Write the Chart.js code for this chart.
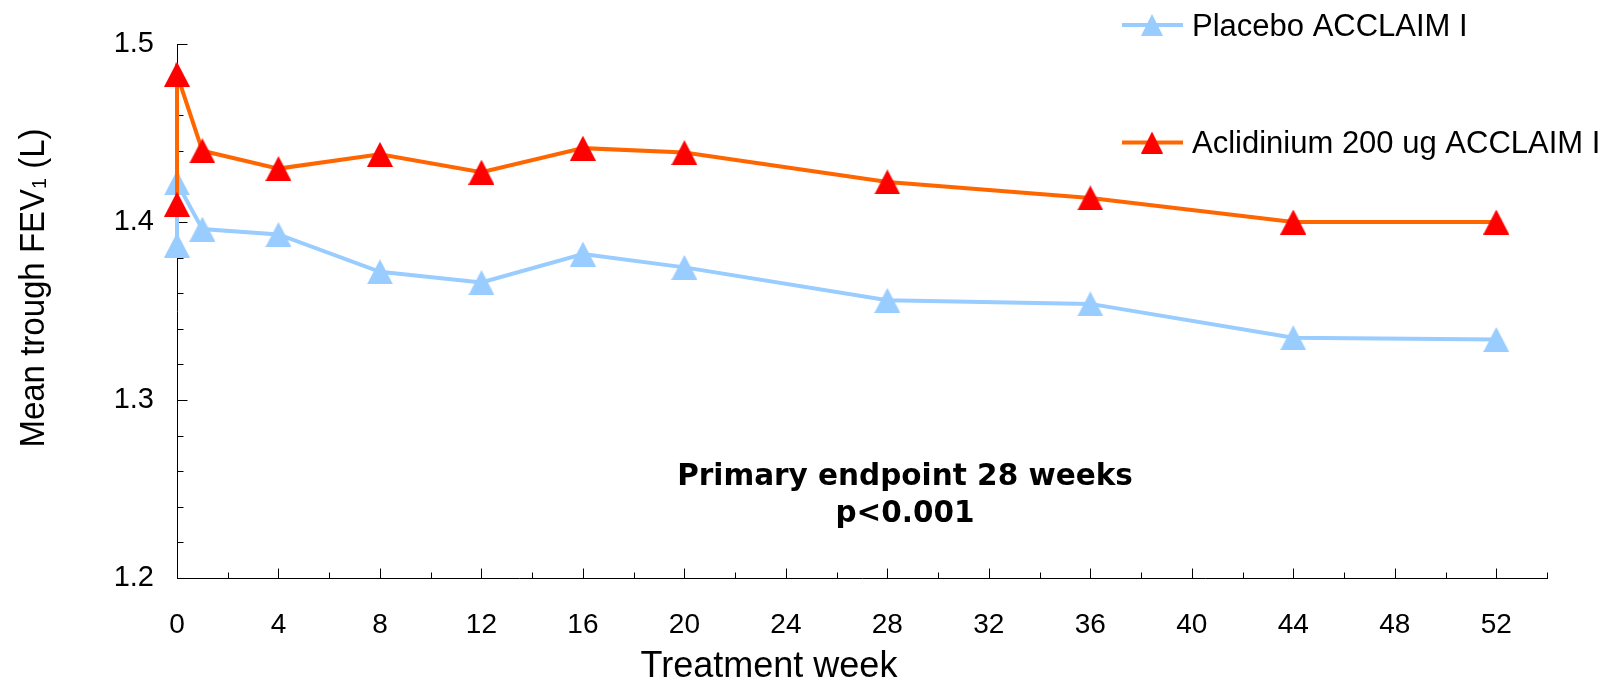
<!DOCTYPE html>
<html>
<head>
<meta charset="utf-8">
<script src="https://cdn.jsdelivr.net/npm/chart.js@4.4.1/dist/chart.umd.min.js"></script>
<style>
  html, body { margin: 0; padding: 0; background: #fff; }
  canvas { display: block; }
</style>
</head>
<body>
<canvas id="grafico" width="1614" height="683"></canvas>
<script>
// dados (semana 0 tem dois pontos: pré e pós-dose)
const semanas = [0, 0, 1, 4, 8, 12, 16, 20, 28, 36, 44, 52];
const placebo = [1.387, 1.422, 1.396, 1.393, 1.372, 1.366, 1.382, 1.3745, 1.356, 1.354, 1.335, 1.334];
const aclidinium = [1.410, 1.483, 1.440, 1.430, 1.438, 1.428, 1.4415, 1.439, 1.4225, 1.4135, 1.400, 1.400];
const nomes = ["Placebo ACCLAIM I", "Aclidinium 200 ug ACCLAIM I"];

const ticksX = [0, 4, 8, 12, 16, 20, 24, 28, 32, 36, 40, 44, 48, 52];
const menoresX = [2, 6, 10, 14, 18, 22, 26, 30, 34, 38, 42, 46, 50, 54];
const ticksY = [1.2, 1.3, 1.4, 1.5];
const menoresY = [1.22, 1.24, 1.26, 1.28, 1.32, 1.34, 1.36, 1.38, 1.42, 1.44, 1.46, 1.48];

const tituloX = "Treatment week";
const tituloY = ["Mean trough FEV", "1", " (L)"];
const nota = ["Primary endpoint 28 weeks", "p<0.001"];

const AZUL = "#99CCFF";
const LARANJA = "#FF6600";
const VERMELHO = "#FF0000";
const FONTE = "'Liberation Sans', Arial, sans-serif";

// triângulo centrado pela caixa (como no Excel)
function triangulo(cor, largura, altura) {
  const c = document.createElement("canvas");
  c.width = largura;
  c.height = altura;
  const g = c.getContext("2d");
  g.fillStyle = cor;
  g.beginPath();
  g.moveTo(largura / 2, 0);
  g.lineTo(largura, altura);
  g.lineTo(0, altura);
  g.closePath();
  g.fill();
  return c;
}

const pontos = (valores) => semanas.map((s, i) => ({ x: s, y: valores[i] }));

const datasets = [
  {
    label: nomes[0],
    data: pontos(placebo),
    borderColor: AZUL,
    borderWidth: 4,
    pointStyle: triangulo(AZUL, 26, 25),
    legenda: triangulo(AZUL, 22, 22),
    order: 2
  },
  {
    label: nomes[1],
    data: pontos(aclidinium),
    borderColor: LARANJA,
    borderWidth: 4,
    pointStyle: triangulo(VERMELHO, 26, 25),
    legenda: triangulo(VERMELHO, 22, 22),
    order: 1
  }
];

// marcas dos eixos para dentro
const marcas = {
  id: "marcas",
  beforeDatasetsDraw(chart) {
    const { ctx, chartArea } = chart;
    const x = chart.scales.x;
    const y = chart.scales.y;
    ctx.save();
    ctx.strokeStyle = "#000";
    ctx.lineWidth = 1;
    ctx.beginPath();
    const esq = Math.round(chartArea.left) + 0.5;
    ticksY.concat(menoresY).forEach((v) => {
      const py = Math.round(y.getPixelForValue(v)) + 0.5;
      const len = ticksY.includes(v) ? 10 : 6;
      ctx.moveTo(esq, py);
      ctx.lineTo(esq + len, py);
    });
    const base = Math.round(chartArea.bottom) + 0.5;
    ticksX.concat(menoresX).forEach((v) => {
      const px = Math.round(x.getPixelForValue(v)) + 0.5;
      const len = ticksX.includes(v) ? 10 : 6;
      ctx.moveTo(px, base);
      ctx.lineTo(px, base - len);
    });
    ctx.stroke();
    ctx.restore();
  }
};

// títulos, nota e legenda
const textos = {
  id: "textos",
  afterDraw(chart) {
    const { ctx } = chart;
    ctx.save();
    ctx.fillStyle = "#000";

    // eixo x
    ctx.font = "36px " + FONTE;
    ctx.textAlign = "center";
    ctx.textBaseline = "alphabetic";
    ctx.fillText(tituloX, 769, 677);

    // eixo y (com subscrito), um pouco estreitado
    ctx.translate(44, 288);
    ctx.rotate(-Math.PI / 2);
    ctx.scale(0.943, 1);
    ctx.textAlign = "left";
    const grande = "35px " + FONTE;
    const pequeno = "21px " + FONTE;
    ctx.font = grande;
    const w1 = ctx.measureText(tituloY[0]).width;
    const w3 = ctx.measureText(tituloY[2]).width;
    ctx.font = pequeno;
    const w2 = ctx.measureText(tituloY[1]).width;
    let px = -(w1 + w2 + w3) / 2;
    ctx.font = grande;
    ctx.fillText(tituloY[0], px, 0);
    px += w1;
    ctx.font = pequeno;
    ctx.fillText(tituloY[1], px, 2);
    px += w2;
    ctx.font = grande;
    ctx.fillText(tituloY[2], px, 0);
    ctx.setTransform(1, 0, 0, 1, 0, 0);

    // nota
    ctx.font = "bold 29.5px 'DejaVu Sans', Verdana, sans-serif";
    ctx.textAlign = "center";
    ctx.fillText(nota[0], 905, 485);
    ctx.fillText(nota[1], 905, 522);

    // legenda
    const linhas = [25, 142.5];
    chart.data.datasets.forEach((ds, i) => {
      const ly = linhas[i];
      ctx.strokeStyle = ds.borderColor;
      ctx.lineWidth = 4;
      ctx.beginPath();
      ctx.moveTo(1122, ly);
      ctx.lineTo(1183, ly);
      ctx.stroke();
      const img = ds.legenda;
      ctx.drawImage(img, 1152 - img.width / 2, ly - img.height / 2);
      ctx.font = "31px " + FONTE;
      ctx.textAlign = "left";
      ctx.fillStyle = "#000";
      ctx.fillText(ds.label, 1192, ly + 10.5);
    });
    ctx.restore();
  }
};

new Chart(document.getElementById("grafico"), {
  type: "line",
  data: { datasets },
  options: {
    responsive: false,
    animation: false,
    devicePixelRatio: 1,
    events: [],
    layout: { padding: { top: 44, right: 67, left: 0, bottom: 0 } },
    elements: {
      line: { tension: 0 },
      point: { radius: 13 }
    },
    datasets: { line: { clip: false } },
    plugins: {
      legend: { display: false },
      tooltip: { enabled: false }
    },
    scales: {
      x: {
        type: "linear",
        min: 0,
        max: 54,
        afterBuildTicks: (s) => { s.ticks = ticksX.map((v) => ({ value: v })); },
        afterFit: (s) => { s.height = 105; },
        grid: { display: false, drawTicks: false },
        border: { display: true, color: "#000", width: 1 },
        ticks: {
          color: "#000",
          font: { family: FONTE, size: 28 },
          padding: 30,
          maxRotation: 0,
          autoSkip: false
        }
      },
      y: {
        min: 1.2,
        max: 1.5,
        afterBuildTicks: (s) => { s.ticks = ticksY.map((v) => ({ value: v })); },
        afterFit: (s) => { s.width = 177; },
        grid: { display: false, drawTicks: false },
        border: { display: true, color: "#000", width: 1 },
        ticks: {
          color: "#000",
          font: { family: FONTE, size: 29 },
          padding: 23,
          callback: (v) => Number(v).toFixed(1)
        }
      }
    }
  },
  plugins: [marcas, textos]
});
</script>
</body>
</html>
